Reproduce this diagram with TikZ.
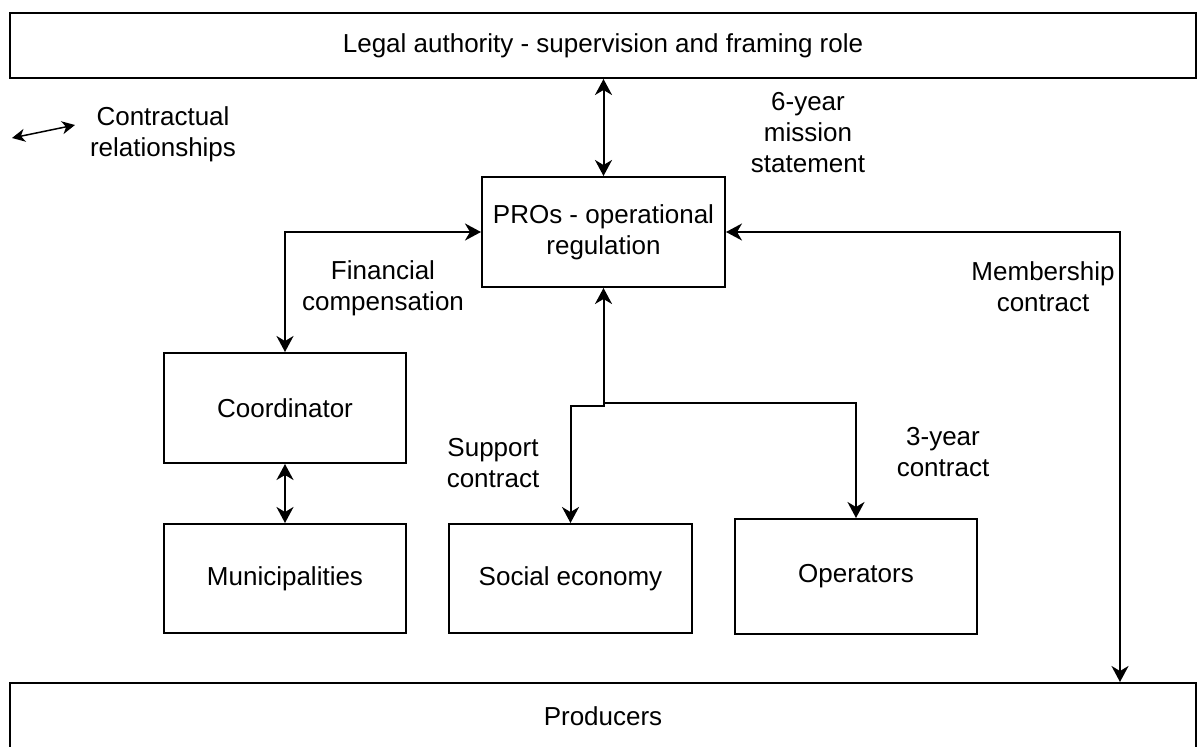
\documentclass[tikz,border=0pt]{standalone}
\usepackage{fontspec}
\setmainfont{Liberation Sans}
\usetikzlibrary{arrows.meta}
\begin{document}
\begin{tikzpicture}[x=1pt,y=-1pt,
  box/.style={draw, line width=2pt, inner sep=0pt, align=center, font=\fontsize{26}{31}\selectfont},
  lbl/.style={inner sep=0pt, align=center, font=\fontsize{26}{31}\selectfont},
  tip/.style={Stealth[length=16pt,width=17pt,inset=5pt]},
  conn/.style={line width=2pt, {Stealth[length=16pt,width=17pt,inset=5pt]}-{Stealth[length=16pt,width=17pt,inset=5pt]}},
  uni/.style={line width=2pt, -{Stealth[length=16pt,width=17pt,inset=5pt]}}]
\useasboundingbox (0,0) rectangle (1197,747);
% boxes
\node[box, minimum width=1186pt, minimum height=65pt] (legal) at (603,45.5) {Legal authority - supervision and framing role};
\node[box, minimum width=243pt, minimum height=110pt] (pros) at (603.5,232) {PROs - operational\\regulation};
\node[box, minimum width=242pt, minimum height=110pt] (coord) at (285,408) {Coordinator};
\node[box, minimum width=242pt, minimum height=109pt] (muni) at (285,578.5) {Municipalities};
\node[box, minimum width=243pt, minimum height=109pt] (soc) at (570.5,578.5) {Social economy};
\node[box, minimum width=242pt, minimum height=115pt] (ops) at (856,576.5) {Operators};
\node[box, minimum width=1186pt, minimum height=66pt] (prod) at (603,716) {Producers};
% labels
\node[lbl] (lmission) at (808,133) {6-year\\mission\\statement};
\node[lbl] (lfin) at (383,288) {Financial\\compensation};
\node[lbl] (lsup) at (493,463) {Support\\contract};
\node[lbl] (lthree) at (943,452) {3-year\\contract};
\node[lbl] (lmem) at (1043,287) {Membership\\contract};
\node[lbl] (lleg) at (163,134) {Contractual\\relationships};
% legend arrow
\coordinate (la) at (12,138);
\coordinate (lb) at (75,125);
\draw[line width=1.5pt, {Stealth[length=13pt,width=13pt,inset=4pt]}-{Stealth[length=13pt,width=13pt,inset=4pt]}] (la) -- (lb);
% connectors
\draw[conn] (pros.north) -- (pros.north |- legal.south);
\draw[conn] (pros.west) -- (coord.north |- pros.west) -- (coord.north);
\draw[conn] (coord.south) -- (muni.north);
\coordinate (j) at (603.5,403);
\coordinate (j2) at (603.5,406);
\draw[uni] (j) -- (pros.south);
\draw[uni] (j) -| (ops.north);
\draw[uni] (j) -- (j2) -| (soc.north);
\coordinate (mc) at (1120,232);
\draw[conn] (pros.east) -- (mc) -- (mc |- prod.north);
\end{tikzpicture}
\end{document}
